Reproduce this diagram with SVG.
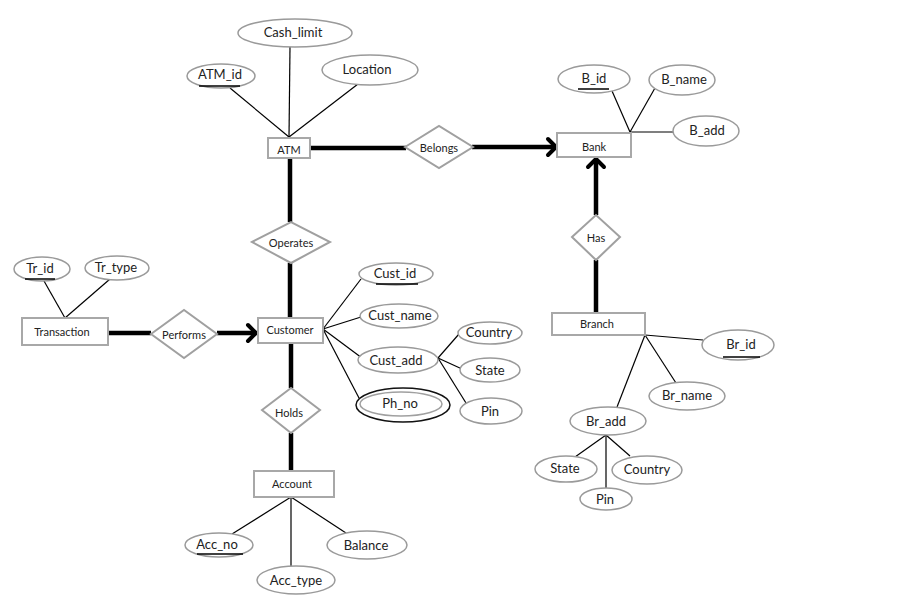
<svg xmlns="http://www.w3.org/2000/svg" width="906" height="604" viewBox="0 0 906 604">
<style>
text{font-family:Lato,"Open Sans","Liberation Sans",sans-serif;fill:#222;text-anchor:middle;dominant-baseline:central}
.a{font-size:13px}
.e{font-size:11px}
.ell{fill:#fff;stroke:#9a9a9a;stroke-width:1.5}
.ent{fill:#fff;stroke:#a8a8a8;stroke-width:2}
.rel{fill:#fff;stroke:#a0a0a0;stroke-width:2}
.thin{stroke:#000;stroke-width:1.2;fill:none}
.thick{stroke:#000;stroke-width:4.5;fill:none}
.arr{stroke:#000;stroke-width:4;fill:none;stroke-linecap:round;stroke-linejoin:round}
.ul{stroke:#000;stroke-width:1.5}
</style>
<rect width="906" height="604" fill="#fff"/>
<g id="connectors">
<line class="thin" x1="289" y1="137" x2="290" y2="47"/>
<line class="thin" x1="289" y1="137" x2="230" y2="88"/>
<line class="thin" x1="289" y1="137" x2="358" y2="84"/>
<line class="thick" x1="310" y1="148" x2="406" y2="148"/>
<line class="thick" x1="472" y1="147" x2="554" y2="147"/>
<polyline class="arr" points="548,139 556,147 548,155"/>
<line class="thin" x1="630" y1="132" x2="612" y2="91"/>
<line class="thin" x1="630" y1="132" x2="655" y2="88"/>
<line class="thin" x1="630" y1="132" x2="673" y2="132"/>
<line class="thick" x1="596" y1="215" x2="596" y2="161"/>
<polyline class="arr" points="588,167 596,159 604,167"/>
<line class="thick" x1="596" y1="260" x2="596" y2="313"/>
<line class="thin" x1="645" y1="335" x2="703" y2="340"/>
<line class="thin" x1="645" y1="335" x2="676" y2="383"/>
<line class="thin" x1="645" y1="335" x2="617" y2="407"/>
<line class="thin" x1="606" y1="435" x2="575" y2="457"/>
<line class="thin" x1="606" y1="435" x2="606" y2="488"/>
<line class="thin" x1="606" y1="435" x2="630" y2="456"/>
<line class="thick" x1="290" y1="158" x2="290" y2="222"/>
<line class="thick" x1="290" y1="263" x2="290" y2="317"/>
<line class="thin" x1="65" y1="318" x2="44" y2="281"/>
<line class="thin" x1="65" y1="318" x2="110" y2="279"/>
<line class="thick" x1="108" y1="333" x2="151" y2="333"/>
<line class="thick" x1="217" y1="333" x2="254" y2="333"/>
<polyline class="arr" points="248,325 256,333 248,341"/>
<line class="thin" x1="323" y1="329" x2="361" y2="279"/>
<line class="thin" x1="323" y1="329" x2="361" y2="317"/>
<line class="thin" x1="323" y1="329" x2="362" y2="358"/>
<line class="thin" x1="323" y1="329" x2="359" y2="398"/>
<line class="thin" x1="438" y1="358" x2="459" y2="334"/>
<line class="thin" x1="438" y1="358" x2="462" y2="369"/>
<line class="thin" x1="438" y1="358" x2="466" y2="403"/>
<line class="thick" x1="291" y1="343" x2="291" y2="388"/>
<line class="thick" x1="291" y1="433" x2="291" y2="472"/>
<line class="thin" x1="291" y1="497" x2="232" y2="534"/>
<line class="thin" x1="291" y1="497" x2="291" y2="566"/>
<line class="thin" x1="291" y1="497" x2="346" y2="533"/>
</g>
<g id="ATM"><rect class="ent" x="268" y="138" width="42" height="20"/><text class="e" x="289" y="149">ATM</text></g>
<g id="Cash_limit"><ellipse class="ell" cx="295" cy="33" rx="57" ry="14"/><text class="a" x="293" y="32">Cash_limit</text></g>
<g id="ATM_id"><ellipse class="ell" cx="221" cy="76" rx="34" ry="12"/><text class="a" x="220" y="74">ATM_id</text><line class="ul" x1="199" y1="86" x2="240" y2="86"/></g>
<g id="Location"><ellipse class="ell" cx="370" cy="70" rx="48" ry="15"/><text class="a" x="367" y="69">Location</text></g>
<g id="Belongs"><polygon class="rel" points="405,147 439,126 473,147 439,168"/><text class="e" x="439" y="147">Belongs</text></g>
<g id="Bank"><rect class="ent" x="557" y="133" width="74" height="24"/><text class="e" x="594" y="146">Bank</text></g>
<g id="B_id"><ellipse class="ell" cx="594" cy="79" rx="36" ry="14"/><text class="a" x="594" y="78">B_id</text><line class="ul" x1="578" y1="89" x2="609" y2="89"/></g>
<g id="B_name"><ellipse class="ell" cx="682" cy="80" rx="33" ry="15"/><text class="a" x="684" y="79">B_name</text></g>
<g id="B_add"><ellipse class="ell" cx="706" cy="131" rx="33" ry="15"/><text class="a" x="707" y="130">B_add</text></g>
<g id="Has"><polygon class="rel" points="572,237 596,215 620,237 596,260"/><text class="e" x="596" y="237">Has</text></g>
<g id="Branch"><rect class="ent" x="552" y="313" width="93" height="22"/><text class="e" x="597" y="323">Branch</text></g>
<g id="Br_id"><ellipse class="ell" cx="738" cy="345" rx="36" ry="15"/><text class="a" x="741" y="344">Br_id</text><line class="ul" x1="723" y1="357" x2="760" y2="357"/></g>
<g id="Br_name"><ellipse class="ell" cx="687" cy="396" rx="38" ry="14"/><text class="a" x="687" y="395">Br_name</text></g>
<g id="Br_add"><ellipse class="ell" cx="608" cy="421" rx="38" ry="14"/><text class="a" x="606" y="421">Br_add</text></g>
<g id="Br_State"><ellipse class="ell" cx="566" cy="469" rx="31" ry="13"/><text class="a" x="565" y="468">State</text></g>
<g id="Br_Country"><ellipse class="ell" cx="647" cy="470" rx="35" ry="14"/><text class="a" x="647" y="469">Country</text></g>
<g id="Br_Pin"><ellipse class="ell" cx="606" cy="499" rx="26" ry="11"/><text class="a" x="605" y="499">Pin</text></g>
<g id="Operates"><polygon class="rel" points="252,242 291,222 330,242 291,263"/><text class="e" x="291" y="242">Operates</text></g>
<g id="Customer"><rect class="ent" x="258" y="318" width="65" height="25"/><text class="e" x="290" y="329">Customer</text></g>
<g id="Transaction"><rect class="ent" x="22" y="318" width="86" height="27"/><text class="e" x="62" y="331">Transaction</text></g>
<g id="Tr_id"><ellipse class="ell" cx="42" cy="269" rx="28" ry="12"/><text class="a" x="40" y="268">Tr_id</text><line class="ul" x1="25" y1="279" x2="55" y2="279"/></g>
<g id="Tr_type"><ellipse class="ell" cx="117" cy="268" rx="32" ry="12"/><text class="a" x="116" y="267">Tr_type</text></g>
<g id="Performs"><polygon class="rel" points="151,334 184,310 217,334 184,358"/><text class="e" x="184" y="334">Performs</text></g>
<g id="Cust_id"><ellipse class="ell" cx="396" cy="274" rx="37" ry="11"/><text class="a" x="395" y="273">Cust_id</text><line class="ul" x1="376" y1="284" x2="418" y2="284"/></g>
<g id="Cust_name"><ellipse class="ell" cx="399" cy="316" rx="39" ry="12"/><text class="a" x="400" y="315">Cust_name</text></g>
<g id="Cust_add"><ellipse class="ell" cx="398" cy="360" rx="40" ry="13"/><text class="a" x="396" y="360">Cust_add</text></g>
<g id="Ph_no"><ellipse fill="#fff" stroke="#111" stroke-width="1.5" cx="403" cy="405" rx="47" ry="17"/><ellipse fill="#fff" stroke="#a0a0a0" stroke-width="1.5" cx="401" cy="404" rx="41" ry="12"/><text class="a" x="400" y="403">Ph_no</text></g>
<g id="Cust_Country"><ellipse class="ell" cx="490" cy="333" rx="32" ry="11"/><text class="a" x="489" y="332">Country</text></g>
<g id="Cust_State"><ellipse class="ell" cx="490" cy="370" rx="30" ry="12"/><text class="a" x="490" y="370">State</text></g>
<g id="Cust_Pin"><ellipse class="ell" cx="491" cy="411" rx="31" ry="13"/><text class="a" x="490" y="411">Pin</text></g>
<g id="Holds"><polygon class="rel" points="262,410 291,388 320,410 291,433"/><text class="e" x="289" y="412">Holds</text></g>
<g id="Account"><rect class="ent" x="254" y="471" width="80" height="26"/><text class="e" x="292" y="483">Account</text></g>
<g id="Acc_no"><ellipse class="ell" cx="219" cy="545" rx="34" ry="12"/><text class="a" x="217" y="544">Acc_no</text><line class="ul" x1="197" y1="554" x2="243" y2="554"/></g>
<g id="Balance"><ellipse class="ell" cx="367" cy="545" rx="40" ry="14"/><text class="a" x="366" y="545">Balance</text></g>
<g id="Acc_type"><ellipse class="ell" cx="296" cy="580" rx="39" ry="14"/><text class="a" x="296" y="580">Acc_type</text></g>
</svg>
